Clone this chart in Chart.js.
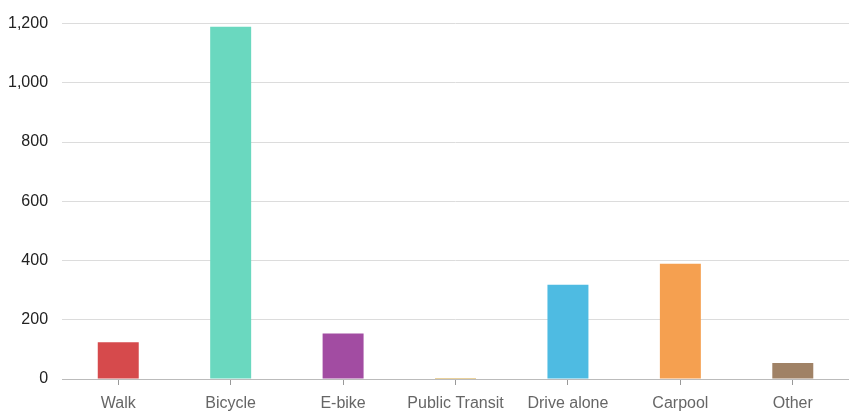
<!DOCTYPE html>
<html>
<head>
<meta charset="utf-8">
<script src="https://cdn.jsdelivr.net/npm/chart.js@4"></script>
<style>
  html, body { margin: 0; padding: 0; background: #fff; }
  #wrap { width: 849px; height: 414px; position: relative; }
</style>
</head>
<body>
<div id="wrap"><canvas id="modeChart"></canvas></div>
<script>
const categories = ['Walk', 'Bicycle', 'E-bike', 'Public Transit', 'Drive alone', 'Carpool', 'Other'];
const trips = [124, 1189, 154, 3, 318, 389, 54];
const barColors = ['#d64a4c', '#6ad8bf', '#a24ca2', '#d4a43a', '#4ebbe2', '#f5a050', '#a08266'];
const yTicks = [0, 200, 400, 600, 800, 1000, 1200];

// Trục X có vạch chia ở giữa mỗi cột, trục Y chỉ có lưới ngang
function drawModeChart(canvasId) {
    const ctx = document.getElementById(canvasId).getContext('2d');
    const labelFont = { family: '"Liberation Sans", Arial, sans-serif', size: 16 };
    new Chart(ctx, {
        type: 'bar',
        data: {
            labels: categories,
            datasets: [{
                data: trips,
                backgroundColor: barColors,
                borderWidth: 0,
                barPercentage: 0.45,
                categoryPercentage: 0.81
            }]
        },
        options: {
            responsive: true,
            maintainAspectRatio: false,
            animation: false,
            layout: { padding: { top: -2, right: 0, left: -6, bottom: 0 } },
            plugins: {
                legend: { display: false },
                tooltip: { enabled: false }
            },
            scales: {
                x: {
                    afterFit: scale => { scale.height = 35; },
                    grid: {
                        display: true,
                        offset: false,
                        drawOnChartArea: false,
                        drawTicks: true,
                        tickLength: 6,
                        color: '#999'
                    },
                    border: { color: '#bbb', width: 1 },
                    ticks: {
                        color: '#666',
                        font: labelFont,
                        padding: 9,
                        maxRotation: 0,
                        autoSkip: false
                    }
                },
                y: {
                    min: 0,
                    max: 1200,
                    afterBuildTicks: axis => {
                        axis.ticks = yTicks.map(v => ({ value: v }));
                    },
                    grid: {
                        color: '#dcdcdc',
                        drawTicks: false
                    },
                    border: { display: false },
                    ticks: {
                        color: '#222',
                        font: labelFont,
                        padding: 14,
                        callback: v => v.toLocaleString('en-US')
                    }
                }
            }
        }
    });
}

document.addEventListener('DOMContentLoaded', () => {
    drawModeChart('modeChart');
});
</script>
</body>
</html>
